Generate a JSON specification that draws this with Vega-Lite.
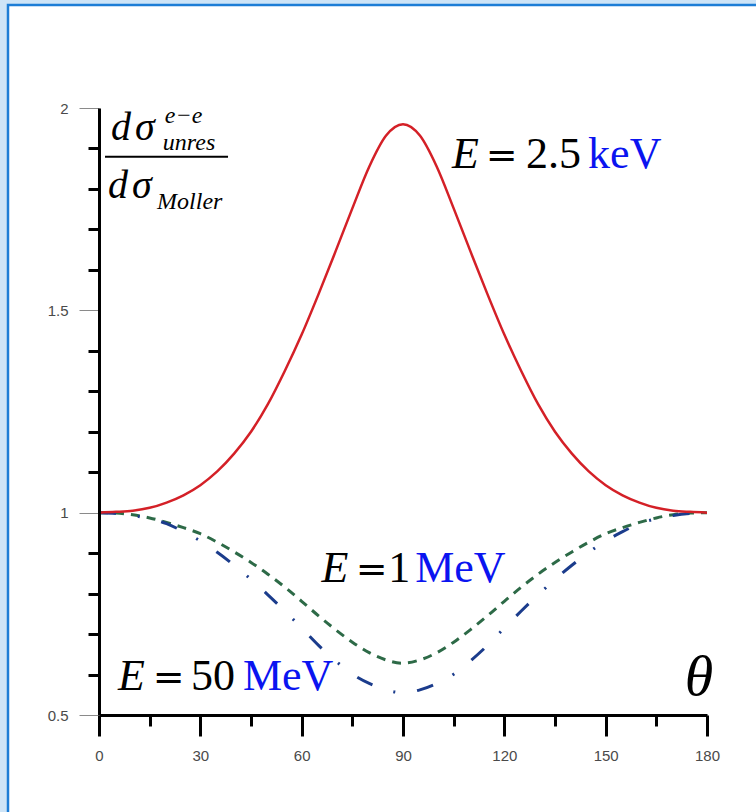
{
  "$schema": "https://vega.github.io/schema/vega-lite/v6.json",
  "width": 608,
  "height": 607,
  "autosize": {"type": "none"},
  "padding": {"left": 99, "top": 108, "right": 49, "bottom": 97},
  "background": "#cde4f7",
  "config": {
    "view": {"stroke": null},
    "axis": {"zindex": 1, "grid": false, "title": null, "labelFont": "Liberation Sans", "labelFontSize": 15, "labelColor": "#4a4a4a"}
  },
  "datasets": {
    "curves": [
      {"E": "1 MeV", "theta": 0, "ratio": 1.000}, {"E": "1 MeV", "theta": 5, "ratio": 0.999}, {"E": "1 MeV", "theta": 10, "ratio": 0.995}, {"E": "1 MeV", "theta": 15, "ratio": 0.987}, {"E": "1 MeV", "theta": 20, "ratio": 0.976}, {"E": "1 MeV", "theta": 25, "ratio": 0.963}, {"E": "1 MeV", "theta": 30, "ratio": 0.948}, {"E": "1 MeV", "theta": 35, "ratio": 0.927}, {"E": "1 MeV", "theta": 40, "ratio": 0.903}, {"E": "1 MeV", "theta": 45, "ratio": 0.877}, {"E": "1 MeV", "theta": 50, "ratio": 0.848}, {"E": "1 MeV", "theta": 55, "ratio": 0.816}, {"E": "1 MeV", "theta": 60, "ratio": 0.781}, {"E": "1 MeV", "theta": 65, "ratio": 0.745}, {"E": "1 MeV", "theta": 70, "ratio": 0.711}, {"E": "1 MeV", "theta": 75, "ratio": 0.680}, {"E": "1 MeV", "theta": 80, "ratio": 0.654}, {"E": "1 MeV", "theta": 85, "ratio": 0.636}, {"E": "1 MeV", "theta": 90, "ratio": 0.628}, {"E": "1 MeV", "theta": 95, "ratio": 0.636}, {"E": "1 MeV", "theta": 100, "ratio": 0.654}, {"E": "1 MeV", "theta": 105, "ratio": 0.680}, {"E": "1 MeV", "theta": 110, "ratio": 0.711}, {"E": "1 MeV", "theta": 115, "ratio": 0.745}, {"E": "1 MeV", "theta": 120, "ratio": 0.781}, {"E": "1 MeV", "theta": 125, "ratio": 0.816}, {"E": "1 MeV", "theta": 130, "ratio": 0.848}, {"E": "1 MeV", "theta": 135, "ratio": 0.877}, {"E": "1 MeV", "theta": 140, "ratio": 0.903}, {"E": "1 MeV", "theta": 145, "ratio": 0.927}, {"E": "1 MeV", "theta": 150, "ratio": 0.948}, {"E": "1 MeV", "theta": 155, "ratio": 0.963}, {"E": "1 MeV", "theta": 160, "ratio": 0.976}, {"E": "1 MeV", "theta": 165, "ratio": 0.987}, {"E": "1 MeV", "theta": 170, "ratio": 0.995}, {"E": "1 MeV", "theta": 175, "ratio": 0.999}, {"E": "1 MeV", "theta": 180, "ratio": 1.000},
      {"E": "50 MeV", "theta": 0, "ratio": 1.000}, {"E": "50 MeV", "theta": 5, "ratio": 0.998}, {"E": "50 MeV", "theta": 10, "ratio": 0.993}, {"E": "50 MeV", "theta": 15, "ratio": 0.985}, {"E": "50 MeV", "theta": 20, "ratio": 0.973}, {"E": "50 MeV", "theta": 25, "ratio": 0.953}, {"E": "50 MeV", "theta": 30, "ratio": 0.930}, {"E": "50 MeV", "theta": 35, "ratio": 0.902}, {"E": "50 MeV", "theta": 40, "ratio": 0.870}, {"E": "50 MeV", "theta": 45, "ratio": 0.835}, {"E": "50 MeV", "theta": 50, "ratio": 0.797}, {"E": "50 MeV", "theta": 55, "ratio": 0.757}, {"E": "50 MeV", "theta": 60, "ratio": 0.715}, {"E": "50 MeV", "theta": 65, "ratio": 0.672}, {"E": "50 MeV", "theta": 70, "ratio": 0.634}, {"E": "50 MeV", "theta": 75, "ratio": 0.601}, {"E": "50 MeV", "theta": 80, "ratio": 0.578}, {"E": "50 MeV", "theta": 85, "ratio": 0.562}, {"E": "50 MeV", "theta": 90, "ratio": 0.555}, {"E": "50 MeV", "theta": 95, "ratio": 0.562}, {"E": "50 MeV", "theta": 100, "ratio": 0.578}, {"E": "50 MeV", "theta": 105, "ratio": 0.601}, {"E": "50 MeV", "theta": 110, "ratio": 0.634}, {"E": "50 MeV", "theta": 115, "ratio": 0.672}, {"E": "50 MeV", "theta": 120, "ratio": 0.715}, {"E": "50 MeV", "theta": 125, "ratio": 0.757}, {"E": "50 MeV", "theta": 130, "ratio": 0.797}, {"E": "50 MeV", "theta": 135, "ratio": 0.835}, {"E": "50 MeV", "theta": 140, "ratio": 0.870}, {"E": "50 MeV", "theta": 145, "ratio": 0.902}, {"E": "50 MeV", "theta": 150, "ratio": 0.930}, {"E": "50 MeV", "theta": 155, "ratio": 0.953}, {"E": "50 MeV", "theta": 160, "ratio": 0.973}, {"E": "50 MeV", "theta": 165, "ratio": 0.985}, {"E": "50 MeV", "theta": 170, "ratio": 0.993}, {"E": "50 MeV", "theta": 175, "ratio": 0.998}, {"E": "50 MeV", "theta": 180, "ratio": 1.000},
      {"E": "2.5 keV", "theta": 0, "ratio": 1.000}, {"E": "2.5 keV", "theta": 5, "ratio": 1.002}, {"E": "2.5 keV", "theta": 10, "ratio": 1.005}, {"E": "2.5 keV", "theta": 15, "ratio": 1.012}, {"E": "2.5 keV", "theta": 20, "ratio": 1.025}, {"E": "2.5 keV", "theta": 25, "ratio": 1.043}, {"E": "2.5 keV", "theta": 30, "ratio": 1.068}, {"E": "2.5 keV", "theta": 35, "ratio": 1.102}, {"E": "2.5 keV", "theta": 40, "ratio": 1.146}, {"E": "2.5 keV", "theta": 45, "ratio": 1.200}, {"E": "2.5 keV", "theta": 50, "ratio": 1.268}, {"E": "2.5 keV", "theta": 55, "ratio": 1.350}, {"E": "2.5 keV", "theta": 60, "ratio": 1.440}, {"E": "2.5 keV", "theta": 65, "ratio": 1.540}, {"E": "2.5 keV", "theta": 70, "ratio": 1.645}, {"E": "2.5 keV", "theta": 75, "ratio": 1.752}, {"E": "2.5 keV", "theta": 80, "ratio": 1.855}, {"E": "2.5 keV", "theta": 85, "ratio": 1.932}, {"E": "2.5 keV", "theta": 90, "ratio": 1.960}, {"E": "2.5 keV", "theta": 95, "ratio": 1.932}, {"E": "2.5 keV", "theta": 100, "ratio": 1.855}, {"E": "2.5 keV", "theta": 105, "ratio": 1.752}, {"E": "2.5 keV", "theta": 110, "ratio": 1.645}, {"E": "2.5 keV", "theta": 115, "ratio": 1.540}, {"E": "2.5 keV", "theta": 120, "ratio": 1.440}, {"E": "2.5 keV", "theta": 125, "ratio": 1.350}, {"E": "2.5 keV", "theta": 130, "ratio": 1.268}, {"E": "2.5 keV", "theta": 135, "ratio": 1.200}, {"E": "2.5 keV", "theta": 140, "ratio": 1.146}, {"E": "2.5 keV", "theta": 145, "ratio": 1.102}, {"E": "2.5 keV", "theta": 150, "ratio": 1.068}, {"E": "2.5 keV", "theta": 155, "ratio": 1.043}, {"E": "2.5 keV", "theta": 160, "ratio": 1.025}, {"E": "2.5 keV", "theta": 165, "ratio": 1.012}, {"E": "2.5 keV", "theta": 170, "ratio": 1.005}, {"E": "2.5 keV", "theta": 175, "ratio": 1.002}, {"E": "2.5 keV", "theta": 180, "ratio": 1.000}
    ],
    "labels": [
      {"t": "E", "x": 104.5, "y": 1.8517, "kind": "var"},
      {"t": "E", "x": 65.9, "y": 0.8294, "kind": "var"},
      {"t": "E", "x": 5.6, "y": 0.5618, "kind": "var"},
      {"t": "=", "x": 119.2, "y": 1.8517, "kind": "eq"},
      {"t": "=", "x": 80.7, "y": 0.8294, "kind": "eq"},
      {"t": "=", "x": 20.6, "y": 0.5618, "kind": "eq"},
      {"t": "2.5", "x": 126.4, "y": 1.8517, "kind": "num"},
      {"t": "1", "x": 85.6, "y": 0.8294, "kind": "num"},
      {"t": "50", "x": 27.2, "y": 0.5618, "kind": "num"},
      {"t": "keV", "x": 144.8, "y": 1.8517, "kind": "unit"},
      {"t": "MeV", "x": 93.6, "y": 0.8294, "kind": "unit"},
      {"t": "MeV", "x": 42.6, "y": 0.5618, "kind": "unit"},
      {"t": "θ", "x": 177.6, "y": 0.549, "kind": "theta"},
      {"t": "d", "x": 3.55, "y": 1.9209, "kind": "frac"},
      {"t": "σ", "x": 10.66, "y": 1.9209, "kind": "frac"},
      {"t": "d", "x": 2.66, "y": 1.7776, "kind": "frac"},
      {"t": "σ", "x": 9.77, "y": 1.7776, "kind": "frac"},
      {"t": "e−e", "x": 19.5, "y": 1.9629, "kind": "script"},
      {"t": "unres", "x": 18.9, "y": 1.8962, "kind": "script"},
      {"t": "Moller", "x": 17.2, "y": 1.7504, "kind": "script"}
    ]
  },
  "layer": [
    {
      "data": {"values": [{}]},
      "mark": {"type": "rect", "fill": "white", "stroke": "#1c7dd6", "strokeWidth": 2.5, "clip": false},
      "encoding": {
        "x": {"datum": -26.94, "type": "quantitative", "scale": {"domain": [0, 180], "nice": false, "zero": false},
          "axis": {"orient": "bottom", "values": [15, 45, 75, 105, 135, 165], "tickSize": 11, "tickWidth": 3, "tickColor": "black", "labels": false, "domain": false, "zindex": 1}},
        "x2": {"datum": 215},
        "y": {"datum": 2.2545, "type": "quantitative", "scale": {"domain": [0.5, 2], "nice": false, "zero": false},
          "axis": {"orient": "left", "values": [0.6, 0.7, 0.8, 0.9, 1.1, 1.2, 1.3, 1.4, 1.6, 1.7, 1.8, 1.9], "tickSize": 11, "tickWidth": 3, "tickColor": "black", "labels": false, "domain": false, "zindex": 1}},
        "y2": {"datum": 0.2}
      }
    },
    {
      "data": {"name": "curves"},
      "transform": [{"filter": "datum.E === '1 MeV'"}],
      "mark": {"type": "line", "color": "#2d6a47", "strokeWidth": 3, "strokeDash": [9, 7], "interpolate": "monotone"},
      "encoding": {
        "x": {"field": "theta", "type": "quantitative", "scale": {"domain": [0, 180], "nice": false, "zero": false}, "axis": null},
        "y": {"field": "ratio", "type": "quantitative", "scale": {"domain": [0.5, 2], "nice": false, "zero": false}, "axis": null}
      }
    },
    {
      "data": {"name": "curves"},
      "transform": [{"filter": "datum.E === '50 MeV'"}],
      "mark": {"type": "line", "color": "#1b3c8c", "strokeWidth": 3, "strokeDash": [17, 22, 2, 22], "interpolate": "monotone"},
      "encoding": {
        "x": {"field": "theta", "type": "quantitative", "scale": {"domain": [0, 180], "nice": false, "zero": false}, "axis": null},
        "y": {"field": "ratio", "type": "quantitative", "scale": {"domain": [0.5, 2], "nice": false, "zero": false}, "axis": null}
      }
    },
    {
      "data": {"name": "curves"},
      "transform": [{"filter": "datum.E === '2.5 keV'"}],
      "mark": {"type": "line", "color": "#d42027", "strokeWidth": 2.5, "interpolate": "monotone"},
      "encoding": {
        "x": {"field": "theta", "type": "quantitative", "scale": {"domain": [0, 180], "nice": false, "zero": false},
          "axis": {"orient": "bottom", "values": [0, 30, 60, 90, 120, 150, 180], "tickSize": 21, "tickWidth": 3, "tickColor": "black", "domain": true, "domainWidth": 3, "domainColor": "black", "labelPadding": 12, "labelFontSize": 15, "labelFont": "Liberation Sans", "labelColor": "#4a4a4a", "labelFlush": false, "labelOverlap": false, "zindex": 1}},
        "y": {"field": "ratio", "type": "quantitative", "scale": {"domain": [0.5, 2], "nice": false, "zero": false},
          "axis": {"orient": "left", "values": [0.5, 1, 1.5, 2], "format": "~g", "tickSize": 20, "tickWidth": 1, "tickColor": "#8a8a8a", "domain": true, "domainWidth": 3, "domainColor": "black", "labelPadding": 11, "labelFontSize": 15, "labelFont": "Liberation Sans", "labelColor": "#4a4a4a", "labelFlush": false, "labelOverlap": false, "zindex": 1}}
      }
    },
    {
      "data": {"name": "labels"},
      "transform": [{"filter": "datum.kind === 'var'"}],
      "mark": {"type": "text", "font": "Liberation Serif", "fontStyle": "italic", "fontSize": 44, "color": "black", "align": "left", "baseline": "alphabetic"},
      "encoding": {
        "x": {"field": "x", "type": "quantitative", "scale": {"domain": [0, 180], "nice": false, "zero": false}, "axis": null},
        "y": {"field": "y", "type": "quantitative", "scale": {"domain": [0.5, 2], "nice": false, "zero": false}, "axis": null},
        "text": {"field": "t"}
      }
    },
    {
      "data": {"name": "labels"},
      "transform": [{"filter": "datum.kind === 'eq'"}],
      "mark": {"type": "text", "font": "DejaVu Serif", "fontSize": 38, "color": "black", "align": "center", "baseline": "alphabetic"},
      "encoding": {
        "x": {"field": "x", "type": "quantitative", "scale": {"domain": [0, 180], "nice": false, "zero": false}, "axis": null},
        "y": {"field": "y", "type": "quantitative", "scale": {"domain": [0.5, 2], "nice": false, "zero": false}, "axis": null},
        "text": {"field": "t"}
      }
    },
    {
      "data": {"name": "labels"},
      "transform": [{"filter": "datum.kind === 'num'"}],
      "mark": {"type": "text", "font": "Liberation Serif", "fontSize": 44, "color": "black", "align": "left", "baseline": "alphabetic"},
      "encoding": {
        "x": {"field": "x", "type": "quantitative", "scale": {"domain": [0, 180], "nice": false, "zero": false}, "axis": null},
        "y": {"field": "y", "type": "quantitative", "scale": {"domain": [0.5, 2], "nice": false, "zero": false}, "axis": null},
        "text": {"field": "t"}
      }
    },
    {
      "data": {"name": "labels"},
      "transform": [{"filter": "datum.kind === 'unit'"}],
      "mark": {"type": "text", "font": "Liberation Serif", "fontSize": 44, "color": "#0a14f0", "align": "left", "baseline": "alphabetic"},
      "encoding": {
        "x": {"field": "x", "type": "quantitative", "scale": {"domain": [0, 180], "nice": false, "zero": false}, "axis": null},
        "y": {"field": "y", "type": "quantitative", "scale": {"domain": [0.5, 2], "nice": false, "zero": false}, "axis": null},
        "text": {"field": "t"}
      }
    },
    {
      "data": {"name": "labels"},
      "transform": [{"filter": "datum.kind === 'theta'"}],
      "mark": {"type": "text", "font": "Liberation Serif", "fontStyle": "italic", "fontSize": 58, "color": "black", "align": "center", "baseline": "alphabetic"},
      "encoding": {
        "x": {"field": "x", "type": "quantitative", "scale": {"domain": [0, 180], "nice": false, "zero": false}, "axis": null},
        "y": {"field": "y", "type": "quantitative", "scale": {"domain": [0.5, 2], "nice": false, "zero": false}, "axis": null},
        "text": {"field": "t"}
      }
    },
    {
      "data": {"name": "labels"},
      "transform": [{"filter": "datum.kind === 'frac'"}],
      "mark": {"type": "text", "font": "Liberation Serif", "fontStyle": "italic", "fontSize": 40, "color": "black", "align": "left", "baseline": "alphabetic"},
      "encoding": {
        "x": {"field": "x", "type": "quantitative", "scale": {"domain": [0, 180], "nice": false, "zero": false}, "axis": null},
        "y": {"field": "y", "type": "quantitative", "scale": {"domain": [0.5, 2], "nice": false, "zero": false}, "axis": null},
        "text": {"field": "t"}
      }
    },
    {
      "data": {"name": "labels"},
      "transform": [{"filter": "datum.kind === 'script'"}],
      "mark": {"type": "text", "font": "Liberation Serif", "fontStyle": "italic", "fontSize": 24, "color": "black", "align": "left", "baseline": "alphabetic"},
      "encoding": {
        "x": {"field": "x", "type": "quantitative", "scale": {"domain": [0, 180], "nice": false, "zero": false}, "axis": null},
        "y": {"field": "y", "type": "quantitative", "scale": {"domain": [0.5, 2], "nice": false, "zero": false}, "axis": null},
        "text": {"field": "t"}
      }
    },
    {
      "data": {"values": [{}]},
      "mark": {"type": "rule", "color": "black", "strokeWidth": 2},
      "encoding": {
        "x": {"datum": 1.78, "type": "quantitative", "scale": {"domain": [0, 180], "nice": false, "zero": false}, "axis": null},
        "x2": {"datum": 38.2},
        "y": {"datum": 1.8796, "type": "quantitative", "scale": {"domain": [0.5, 2], "nice": false, "zero": false}, "axis": null}
      }
    }
  ],
  "resolve": {"axis": {"x": "independent", "y": "independent"}}
}
